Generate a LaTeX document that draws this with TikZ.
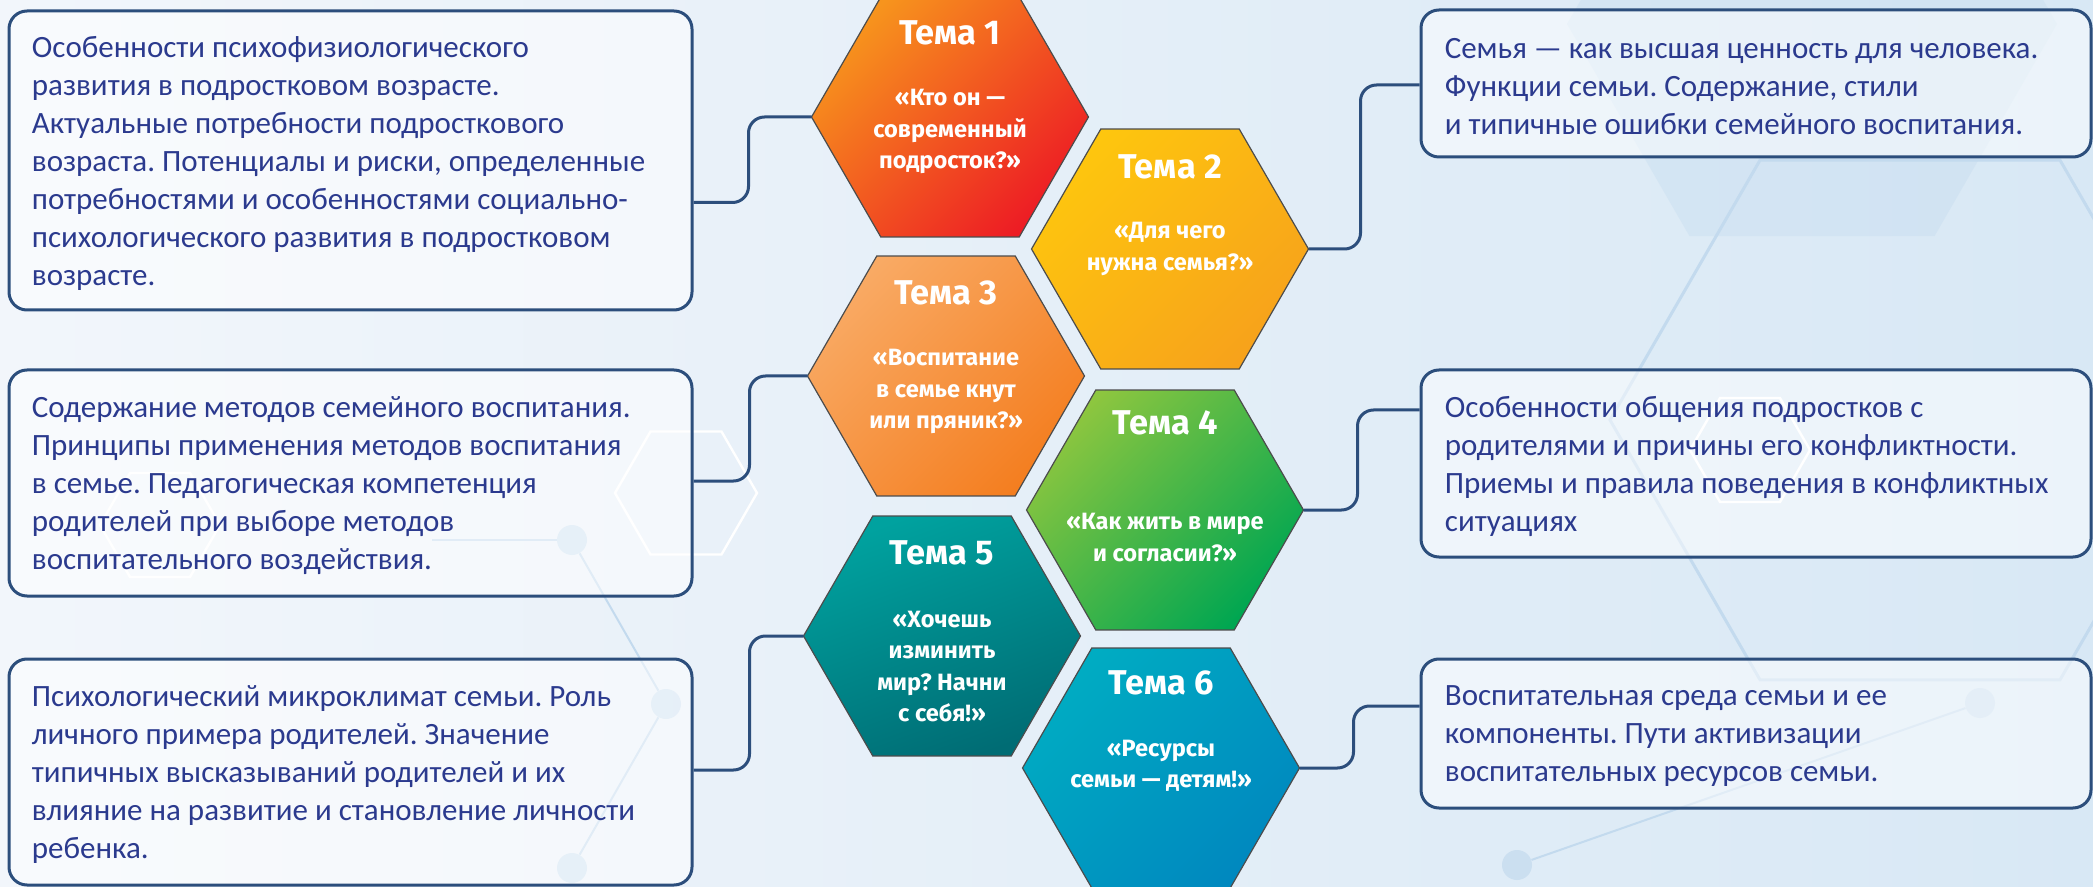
\documentclass[tikz,border=0pt]{standalone}
\usepackage{fontspec}
\setmainfont{Carlito}
\newfontfamily\hexfont{Fira Sans}
\usetikzlibrary{shapes.geometric,calc}
\frenchspacing
\definecolor{bgA}{HTML}{F2F6FB}
\definecolor{bgB}{HTML}{D8E8F5}
\definecolor{deco}{HTML}{C3DAEE}
\definecolor{bordc}{HTML}{2C4E7C}
\definecolor{txtc}{HTML}{2B3A8E}
\definecolor{o1a}{HTML}{F7941D}\definecolor{o1b}{HTML}{ED1C24}
\definecolor{y2a}{HTML}{FEC60E}\definecolor{y2b}{HTML}{F7A21B}
\definecolor{o3a}{HTML}{F9AA64}\definecolor{o3b}{HTML}{F47E20}
\definecolor{g4a}{HTML}{8DC63F}\definecolor{g4b}{HTML}{00A651}
\definecolor{t5a}{HTML}{00A29F}\definecolor{t5b}{HTML}{006C74}
\definecolor{c6a}{HTML}{00ACC2}\definecolor{c6b}{HTML}{0088BF}
\begin{document}
\frenchspacing
\begin{tikzpicture}[x=0.5pt,y=-0.5pt,
 hexa/.style={regular polygon,regular polygon sides=6,minimum size=138.5pt,inner sep=0pt,outer sep=0pt,draw=black!70,line width=0.6pt},
 dhex/.style={regular polygon,regular polygon sides=6,inner sep=0pt,outer sep=0pt},
 dot/.style={circle,fill=deco,fill opacity=0.7,inner sep=0pt,minimum size=15pt},
 ttl/.style={text=white,font=\hexfont\bfseries\fontsize{17.2}{19}\selectfont,inner sep=0pt},
 bdy/.style={text=white,align=center,font=\hexfont\bfseries\fontsize{11.8}{15.75}\selectfont,inner sep=0pt},
 tbox/.style={draw=bordc,line width=1.5pt,rounded corners=9pt,fill=white,fill opacity=0.5,inner sep=0pt},
 btxt/.style={text=txtc,align=left,anchor=west,inner sep=0pt,font=\fontsize{15.5}{19}\selectfont\frenchspacing},
 conn/.style={draw=bordc,line width=1.5pt,rounded corners=8pt}]
\useasboundingbox (0,0) rectangle (2093,887);
\fill[left color=bgA,right color=bgB] (0,0) rectangle (2093,887);
% background decoration
\node[dhex,minimum size=245pt,fill=deco,fill opacity=0.35] (d1) at (1812,24) {};
\node[dhex,minimum size=71pt,draw=white,line width=1.2pt] (d2) at (686,493) {};
\node[dhex,minimum size=60pt,draw=white,line width=1.2pt] (d3) at (160,525) {};
\node[dhex,minimum size=60pt,draw=white,line width=1.2pt] (d4) at (1750,450) {};
\node[dhex,minimum size=300pt,draw=deco,line width=1.5pt] (d5) at (1910,420) {};
\node[dot] (p1) at (572,540) {};
\node[dot] (p2) at (666,704) {};
\node[dot] (p3) at (572,868) {};
\node[dot] (p4) at (1517,865) {};
\node[dot] (p5) at (1980,703) {};
\draw[deco,line width=1pt] (p1) -- (p2) -- (p3);
\draw[deco,line width=1pt] (p1) -- +(-140,0);
\draw[deco,line width=1pt] (p4) -- (p5);
% hexagons
\node[hexa,top color=o1a,bottom color=o1b,shading angle=45] (h1) at (950,117) {};
\node[hexa,top color=y2a,bottom color=y2b,shading angle=45] (h2) at (1170,249) {};
\node[hexa,top color=o3a,bottom color=o3b,shading angle=45] (h3) at (946,376) {};
\node[hexa,top color=g4a,bottom color=g4b,shading angle=45] (h4) at (1165,510) {};
\node[hexa,top color=t5a,bottom color=t5b,shading angle=20] (h5) at (942,636) {};
\node[hexa,top color=c6a,bottom color=c6b,shading angle=45] (h6) at (1161,768) {};
% hexagon texts
\node[ttl] (ht1) at (950,33) {Тема 1};
\node[bdy] (hb1) at (950,131.5) {«Кто он —\\современный\\подросток?»};
\node[ttl] (ht2) at (1170,167) {Тема 2};
\node[bdy] (hb2) at (1170,249) {«Для чего\\нужна семья?»};
\node[ttl] (ht3) at (946,293) {Тема 3};
\node[bdy] (hb3) at (946,391.5) {«Воспитание\\в семье кнут\\или пряник?»};
\node[ttl] (ht4) at (1165,423) {Тема 4};
\node[bdy] (hb4) at (1165,537.5) {«Как жить в мире\\и согласии?»};
\node[ttl] (ht5) at (942,553) {Тема 5};
\node[bdy] (hb5) at (942,666.5) {«Хочешь\\изминить\\мир? Начни\\с себя!»};
\node[ttl] (ht6) at (1161,683) {Тема 6};
\node[bdy] (hb6) at (1161,766) {«Ресурсы\\семьи — детям!»};
% boxes
\node[tbox,minimum width=341.5pt,minimum height=149.5pt] (b1) at (350.5,160.5) {};
\node[tbox,minimum width=341.5pt,minimum height=113pt] (b2) at (350.5,483) {};
\node[tbox,minimum width=341.5pt,minimum height=113pt] (b3) at (350.5,772) {};
\node[tbox,minimum width=335pt,minimum height=73.5pt] (r1) at (1756,83.5) {};
\node[tbox,minimum width=335pt,minimum height=93.5pt] (r2) at (1756,463.5) {};
\node[tbox,minimum width=335pt,minimum height=74.5pt] (r3) at (1756,733.5) {};
\node[btxt] (bt1) at ([xshift=12pt,yshift=-1.5pt]b1.west) {Особенности психофизиологического\\развития в подростковом возрасте.\\Актуальные потребности подросткового\\возраста. Потенциалы и риски, определенные\\потребностями и особенностями социально-\\психологического развития в подростковом\\возрасте.};
\node[btxt] (bt2) at ([xshift=12pt,yshift=-1.5pt]b2.west) {Содержание методов семейного воспитания.\\Принципы применения методов воспитания\\в семье. Педагогическая компетенция\\родителей при выборе методов\\воспитательного воздействия.};
\node[btxt] (bt3) at ([xshift=12pt,yshift=-1.5pt]b3.west) {Психологический микроклимат семьи. Роль\\личного примера родителей. Значение\\типичных высказываний родителей и их\\влияние на развитие и становление личности\\ребенка.};
\node[btxt] (rt1) at ([xshift=12.5pt,yshift=-1.5pt]r1.west) {Семья — как высшая ценность для человека.\\Функции семьи. Содержание, стили\\и типичные ошибки семейного воспитания.};
\node[btxt] (rt2) at ([xshift=12.5pt,yshift=-1.5pt]r2.west) {Особенности общения подростков с\\родителями и причины его конфликтности.\\Приемы и правила поведения в конфликтных\\ситуациях};
\node[btxt] (rt3) at ([xshift=12.5pt,yshift=-1.5pt]r3.west) {Воспитательная среда семьи и ее\\компоненты. Пути активизации\\воспитательных ресурсов семьи.};
% connectors
\draw[conn] ([yshift=-21pt]b1.east) -| ([xshift=-31.5pt]h1.west) -- (h1.west);
\draw[conn] ([yshift=1pt]b2.east) -| ([xshift=-29pt]h3.west) -- (h3.west);
\draw[conn] ([yshift=1pt]b3.east) -| ([xshift=-27pt]h5.west) -- (h5.west);
\draw[conn] (h2.east) -| ([xshift=-29.5pt,yshift=-0.75pt]r1.west) -- ([yshift=-0.75pt]r1.west);
\draw[conn] (h4.east) -| ([xshift=-31pt,yshift=26.75pt]r2.west) -- ([yshift=26.75pt]r2.west);
\draw[conn] (h6.east) -| ([xshift=-33pt,yshift=13.75pt]r3.west) -- ([yshift=13.75pt]r3.west);
\end{tikzpicture}
\end{document}
